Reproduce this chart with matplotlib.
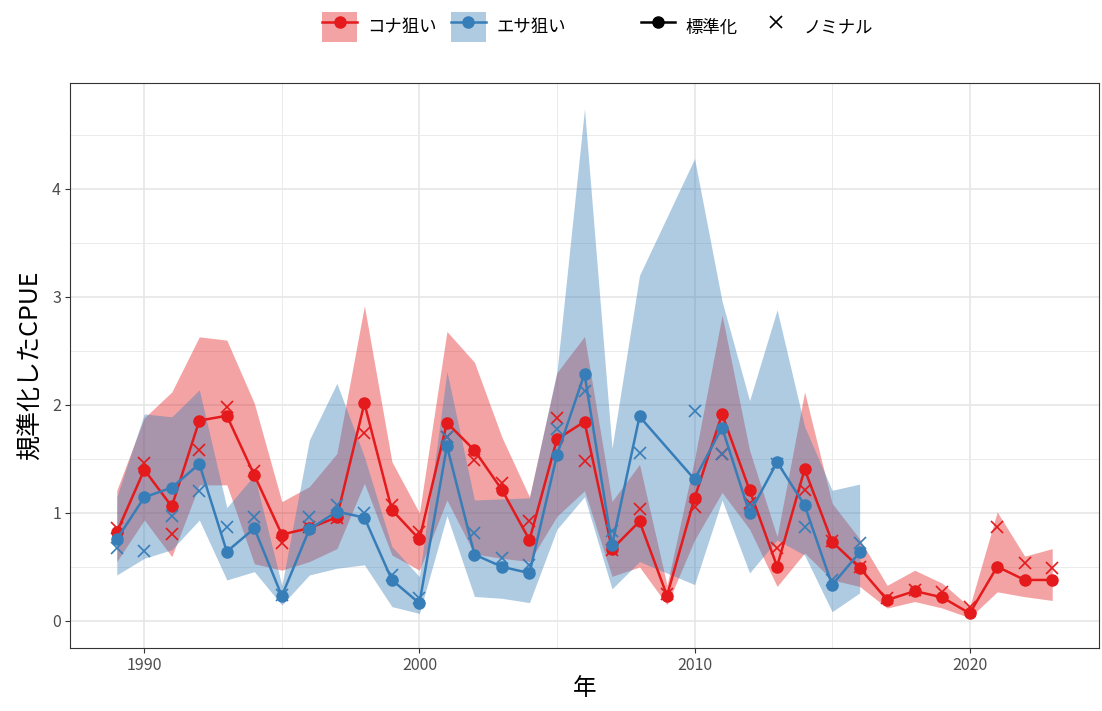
import numpy as np
import matplotlib
matplotlib.use("Agg")
import matplotlib.pyplot as plt
from matplotlib.lines import Line2D
from matplotlib.patches import Patch
from matplotlib.legend_handler import HandlerTuple
from matplotlib.ticker import MultipleLocator

plt.rcParams['font.family'] = ['Noto Sans CJK JP', 'DejaVu Sans']

# ---------------- data ----------------
red_years = list(range(1989, 2024))
red_std = [0.82, 1.40, 1.06, 1.855, 1.90, 1.35, 0.80, 0.86, 0.96, 2.015,
           1.028, 0.756, 1.835, 1.58, 1.214, 0.751, 1.683, 1.845, 0.665, 0.922,
           0.234, 1.137, 1.914, 1.212, 0.504, 1.405, 0.733, 0.493, 0.194, 0.277,
           0.219, 0.071, 0.503, 0.38, 0.38]
red_nom = [0.858, 1.466, 0.802, 1.583, 1.978, 1.389, 0.72, 0.87, 0.95, 1.744,
           1.074, 0.827, 1.70, 1.489, 1.276, 0.929, 1.877, 1.479, 0.66, 1.034,
           0.25, 1.058, 1.55, 1.089, 0.674, 1.211, 0.745, 0.50, 0.21, 0.29,
           0.27, 0.13, 0.867, 0.54, 0.494]
red_upper = [1.21, 1.88, 2.12, 2.63, 2.60, 2.015, 1.105, 1.244, 1.55, 2.917,
             1.475, 1.0, 2.68, 2.395, 1.70, 1.149, 2.30, 2.634, 1.107, 1.45,
             0.33, 1.50, 2.83, 1.58, 0.78, 2.12, 1.09, 0.76, 0.33, 0.47,
             0.35, 0.13, 1.01, 0.60, 0.67]
red_lower = [0.55, 0.935, 0.596, 1.26, 1.26, 0.53, 0.47, 0.55, 0.67, 1.275,
             0.61, 0.47, 1.12, 0.62, 0.58, 0.55, 0.97, 1.206, 0.413, 0.50,
             0.15, 0.75, 1.19, 0.85, 0.32, 0.63, 0.38, 0.32, 0.12, 0.18,
             0.12, 0.03, 0.27, 0.225, 0.19]

blue_years = [1989, 1990, 1991, 1992, 1993, 1994, 1995, 1996, 1997, 1998,
              1999, 2000, 2001, 2002, 2003, 2004, 2005, 2006, 2007, 2008,
              2010, 2011, 2012, 2013, 2014, 2015, 2016]
blue_std = [0.756, 1.145, 1.235, 1.454, 0.642, 0.858, 0.231, 0.849, 1.013, 0.957,
            0.38, 0.164, 1.62, 0.615, 0.502, 0.443, 1.537, 2.288, 0.70, 1.893,
            1.311, 1.79, 0.997, 1.47, 1.072, 0.333, 0.635]
blue_nom = [0.679, 0.648, 0.972, 1.207, 0.867, 0.966, 0.24, 0.966, 1.074, 1.003,
            0.426, 0.21, 1.70, 0.819, 0.583, 0.518, 1.78, 2.126, 0.83, 1.551,
            1.94, 1.545, 1.074, 1.45, 0.866, 0.38, 0.72]
blue_upper = [1.15, 1.917, 1.89, 2.14, 1.05, 1.35, 0.33, 1.676, 2.2, 1.52,
              0.69, 0.41, 2.31, 1.12, 1.13, 1.14, 2.31, 4.74, 1.60, 3.2,
              4.28, 2.96, 2.04, 2.88, 1.80, 1.21, 1.267]
blue_lower = [0.426, 0.58, 0.66, 0.935, 0.38, 0.457, 0.148, 0.426, 0.488, 0.52,
              0.133, 0.07, 0.975, 0.227, 0.21, 0.17, 0.85, 1.15, 0.297, 0.55,
              0.337, 1.12, 0.445, 0.75, 0.61, 0.086, 0.26]

labels_group = ['コナ狙い', 'エサ狙い']
labels_type = ['標準化', 'ノミナル']
x_ticks = [1990, 2000, 2010, 2020]
y_ticks = [0, 1, 2, 3, 4]

RED = '#E41A1C'
BLUE = '#377EB8'

# ---------------- figure ----------------
fig = plt.figure(figsize=(11.02, 7.11), dpi=100)
ax = fig.add_axes([70 / 1102, 1 - 648 / 711, (1099 - 70) / 1102, (648 - 83) / 711])

ax.fill_between(red_years, red_lower, red_upper, color=RED, alpha=0.4, lw=0, zorder=2)
ax.fill_between(blue_years, blue_lower, blue_upper, color=BLUE, alpha=0.4, lw=0, zorder=2)

ax.plot(red_years, red_std, color=RED, lw=1.8, marker='o', ms=8, zorder=4)
ax.plot(red_years, red_nom, ls='none', color=RED, marker='x', ms=9, mew=1.2, zorder=4)
ax.plot(blue_years, blue_std, color=BLUE, lw=1.8, marker='o', ms=8, zorder=5)
ax.plot(blue_years, blue_nom, ls='none', color=BLUE, marker='x', ms=9, mew=1.2, zorder=5)

ax.set_xlim(1987.3, 2024.7)
ax.set_ylim(-0.25, 4.98)
ax.set_xticks(x_ticks)
ax.set_xticklabels([str(v) for v in x_ticks])
ax.set_yticks(y_ticks)
ax.set_yticklabels([str(v) for v in y_ticks])
ax.xaxis.set_minor_locator(MultipleLocator(5))
ax.yaxis.set_minor_locator(MultipleLocator(0.5))

ax.grid(which='major', color='#E6E6E6', lw=1.2, zorder=0)
ax.grid(which='minor', color='#EBEBEB', lw=0.7, zorder=0)
ax.set_axisbelow(True)
ax.tick_params(which='minor', length=0)
ax.tick_params(which='major', length=3.5, width=0.8, color='#333333',
               labelsize=11.5, labelcolor='#4D4D4D', pad=3)
for s in ax.spines.values():
    s.set_color('#333333')
    s.set_linewidth(0.8)

ax.set_xlabel('年', fontsize=17, labelpad=2)
ax.set_ylabel('規準化したCPUE', fontsize=18, labelpad=6)

# ---------------- legends ----------------
h_red = (Patch(facecolor=RED, alpha=0.4, edgecolor='none'),
         Line2D([], [], color=RED, lw=1.8, marker='o', ms=8))
h_blue = (Patch(facecolor=BLUE, alpha=0.4, edgecolor='none'),
          Line2D([], [], color=BLUE, lw=1.8, marker='o', ms=8))
leg1 = fig.legend([h_red, h_blue], labels_group,
                  handler_map={tuple: HandlerTuple(ndivide=1, pad=0)},
                  loc='center', bbox_to_anchor=(444 / 1102, 1 - 27 / 711),
                  ncol=2, frameon=False, fontsize=12.5, handlelength=2.0,
                  handleheight=2.2, handletextpad=0.6, columnspacing=0.8,
                  numpoints=1)
h_std = Line2D([], [], color='black', lw=1.8, marker='o', ms=8)
h_nom = Line2D([], [], color='black', ls='none', marker='x', ms=9, mew=1.2)
leg2 = fig.legend([h_std, h_nom], labels_type,
                  loc='center', bbox_to_anchor=(757 / 1102, 1 - 27 / 711),
                  ncol=2, frameon=False, fontsize=12.5, handlelength=2.0,
                  handleheight=2.2, handletextpad=0.6, columnspacing=1.2,
                  numpoints=1)

fig.savefig('out.png', dpi=100)
